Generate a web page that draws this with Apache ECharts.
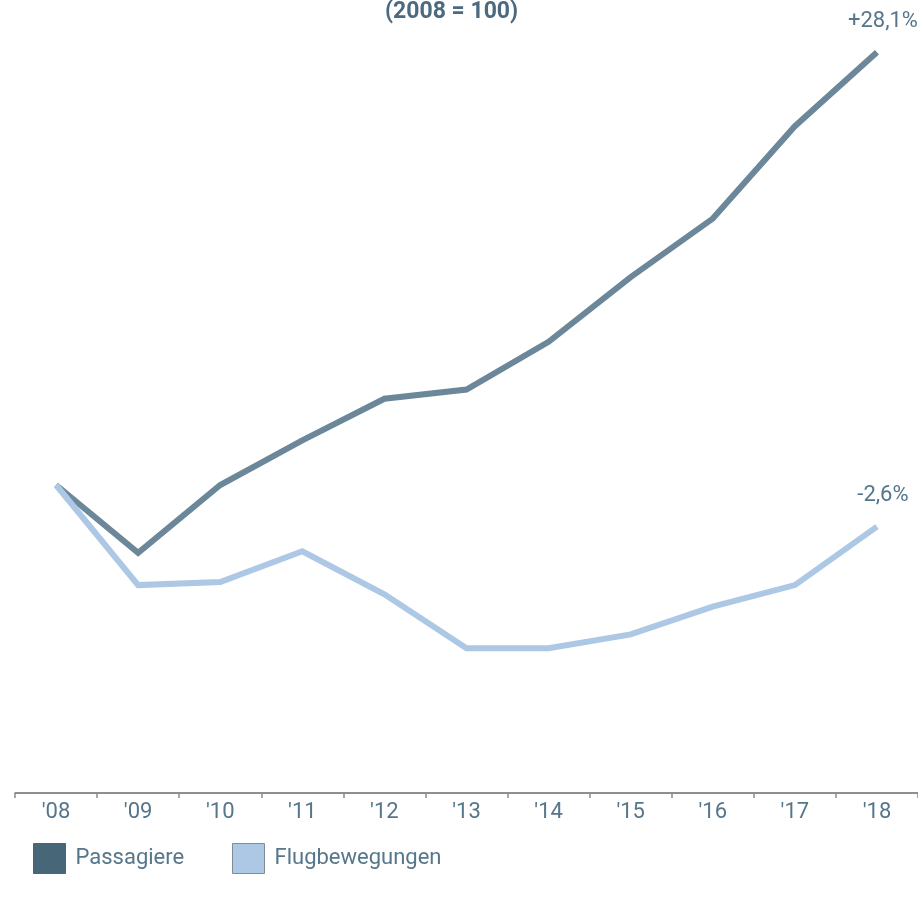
<!DOCTYPE html>
<html><head><meta charset="utf-8">
<script src="https://cdn.jsdelivr.net/npm/echarts@6/dist/echarts.min.js"></script>
<style>html,body{margin:0;padding:0;background:#fff}#c{width:918px;height:900px}</style>
</head><body><div id="c"></div>
<script>
const categories = ["'08","'09","'10","'11","'12","'13","'14","'15","'16","'17","'18"];
const passagiere = [100, 95.6, 100.0, 102.9, 105.6, 106.2, 109.3, 113.5, 117.3, 123.3, 128.1];
const flugbewegungen = [100, 93.5, 93.7, 95.7, 92.9, 89.4, 89.4, 90.3, 92.1, 93.5, 97.3];
const seriesNames = ["Passagiere", "Flugbewegungen"];
const endLabels = ["+28,1%", "-2,6%"];
const titleText = "(2008 = 100)";

const FONT = 'Roboto, "Noto Sans", sans-serif';
const TXT = '#56768a';

function endMark(arr, text) {
  const i = arr.length - 1;
  return {
    silent: true, symbol: 'circle', symbolSize: 0, animation: false,
    label: { show: true, position: 'top', distance: 20, offset: [6, 0], formatter: text, color: TXT, fontFamily: FONT, fontSize: 22 },
    data: [{ coord: [i, arr[i]] }]
  };
}

const chart = echarts.init(document.getElementById('c'), null, { renderer: 'canvas' });
chart.setOption({
  animation: false,
  title: {
    text: titleText, left: 380, top: -4,
    textStyle: { fontFamily: FONT, fontSize: 23, fontWeight: 'bold', color: '#4b6a80' }
  },
  grid: { left: 15, top: 23, right: 0, height: 770 },
  legend: [
    { left: 28, top: 838, itemWidth: 32, itemHeight: 30, icon: 'rect',
      data: [{ name: seriesNames[0], itemStyle: { color: '#476779', borderColor: '#476779', borderWidth: 1 } }],
      textStyle: { fontFamily: FONT, fontSize: 22, color: TXT, padding: [0, 0, 0, 5] } },
    { left: 227, top: 838, itemWidth: 32, itemHeight: 30, icon: 'rect',
      data: [{ name: seriesNames[1], itemStyle: { color: '#adc8e5', borderColor: '#7f8c96', borderWidth: 1 } }],
      textStyle: { fontFamily: FONT, fontSize: 22, color: TXT, padding: [0, 0, 0, 5] } }
  ],
  xAxis: {
    type: 'category', data: categories, boundaryGap: true,
    axisLine: { lineStyle: { color: '#6b6b6b', width: 1.5 } },
    axisTick: { show: true, length: 5, lineStyle: { color: '#8a8a8a', width: 1.5 } },
    axisLabel: { color: TXT, fontFamily: FONT, fontSize: 22, margin: 8 }
  },
  yAxis: { type: 'value', min: 80, max: 130, show: false, splitLine: { show: false } },
  series: [
    { name: seriesNames[0], type: 'line', data: passagiere,
      showSymbol: false, symbol: 'none',
      lineStyle: { color: '#6b8799', width: 6, join: 'miter' }, itemStyle: { color: '#476779' },
      markPoint: endMark(passagiere, endLabels[0]) },
    { name: seriesNames[1], type: 'line', data: flugbewegungen,
      showSymbol: false, symbol: 'none',
      lineStyle: { color: '#adc8e5', width: 6, join: 'miter' }, itemStyle: { color: '#adc8e5' },
      markPoint: endMark(flugbewegungen, endLabels[1]) }
  ]
});
</script></body></html>
